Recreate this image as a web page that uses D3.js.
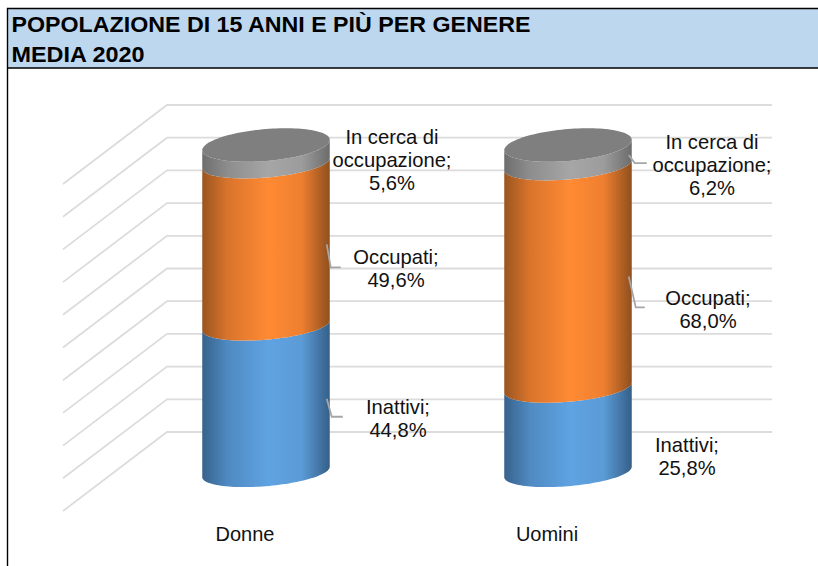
<!DOCTYPE html>
<html><head><meta charset="utf-8">
<script src="https://cdn.jsdelivr.net/npm/d3@7"></script>
<style>html,body{margin:0;padding:0;background:#fff}svg{display:block}text{font-family:"Liberation Sans",Arial,sans-serif}</style>
</head><body><svg id="c" width="818" height="566"></svg>
<script>
const categories = ["Donne", "Uomini"];
const seriesNames = ["Inattivi", "Occupati", "In cerca di occupazione"];
const inattivi = [44.8, 25.8];
const occupati = [49.6, 68.0];
const inCerca = [5.6, 6.2];
const seriesValues = [inattivi, occupati, inCerca];
const gridTicks = d3.range(0, 101, 10);
const titleLines = ["POPOLAZIONE DI 15 ANNI E PIÙ PER GENERE", "MEDIA 2020"];

const W = 818, H = 566;
const svg = d3.select("#c");
const defs = svg.append("defs");

// chart geometry
const y = d3.scaleLinear().domain([0, 100]).range([432, 105]);
const x = d3.scalePoint().domain(categories).range([266, 568]);
const radius = 63.75, tilt = 5.2, depthMid = 40;
const backL = 167, backR = 772, depthX = -104, depthY = 79;

// header and frame
svg.append("rect").attr("x", 7).attr("y", 8).attr("width", W - 7).attr("height", 60).attr("fill", "#BDD7EE");
svg.append("path").attr("d", `M${W},8.5H7.5V${H}M7.5,68H${W}`).attr("fill", "none").attr("stroke", "#000").attr("stroke-width", 1.4);
svg.selectAll(".title").data(titleLines).join("text").attr("class", "title")
  .attr("x", 11.5).attr("y", (d, i) => 32 + i * 30)
  .attr("font-size", 22.6).attr("font-weight", "bold").attr("fill", "#000")
  .attr("textLength", (d, i) => i === 0 ? 519 : 133).attr("lengthAdjust", "spacingAndGlyphs")
  .text(d => d);

// gridlines: back wall + side wall
svg.append("g").selectAll("path").data(gridTicks).join("path")
  .attr("d", t => `M${backL + depthX},${y(t) + depthY}L${backL},${y(t)}H${backR}`)
  .attr("fill", "none").attr("stroke", "#dcdcdc").attr("stroke-width", 1.8);

// gradients
const grads = [
  {id: "g0", stops: ["#37628c", "#4f8ac2", "#5fa3e2", "#5b9bd6", "#355f88"]},
  {id: "g1", stops: ["#9a5520", "#d9742c", "#ff8a33", "#ee7f30", "#8f4f1e"]},
  {id: "g2", stops: ["#6e6e6e", "#8d8d8d", "#a6a6a6", "#9c9c9c", "#6c6c6c"]}
];
grads.forEach(g => {
  const lg = defs.append("linearGradient").attr("id", g.id).attr("x1", 0).attr("x2", 1).attr("y1", 0).attr("y2", 0);
  [0, 0.2, 0.52, 0.78, 1].forEach((o, i) => lg.append("stop").attr("offset", o).attr("stop-color", g.stops[i]));
});

const line = d3.line().curve(d3.curveLinear);
const rim = (cat, value, b, t) => [
  x(cat) + radius * Math.cos(t),
  y(value) + depthMid + b * Math.sin(t) - tilt * Math.cos(t)
];
const ts = d3.range(0, 61).map(i => i / 60 * Math.PI);
const bBody = 14.2, bTop = 16;

categories.forEach((cat, ci) => {
  let acc = 0;
  seriesValues.forEach((vals, si) => {
    const v0 = acc, v1 = acc + vals[ci];
    acc = v1;
    const lower = ts.map(t => rim(cat, v0, bBody, t));
    const upper = ts.map(t => rim(cat, v1, si === 2 ? bTop : bBody, t)).reverse();
    svg.append("path").attr("d", line(lower.concat(upper)) + "Z").attr("fill", `url(#g${si})`);
  });
  const all = d3.range(0, 121).map(i => rim(cat, acc, bTop, i / 120 * 2 * Math.PI));
  svg.append("path").attr("d", line(all) + "Z").attr("fill", "#7f7f7f");
});

// data labels (placement of each label relative to its cylinder's centre)
const labelLayout = [
  [{dx: 132, y: 407, lead: [5, 18, 11], leadOn: true}, {dx: 130, y: 257, lead: [4, 23, 10], leadOn: true}, {dx: 126, y: 137, leadOn: false}],
  [{dx: 119, y: 445, leadOn: false}, {dx: 140, y: 298, lead: [7, 31, 9], leadOn: true}, {dx: 144, y: 142, lead: [6, 8, 12], leadOn: true}]
];
const lineH = 23;
categories.forEach((cat, ci) => {
  let acc = 0;
  seriesValues.forEach((vals, si) => {
    const v = vals[ci], mid = acc + v / 2;
    acc += v;
    const L = labelLayout[ci][si];
    const pct = d3.format(".1f")(v).replace(".", ",") + "%";
    const words = si === 2 ? ["In cerca di", "occupazione;", pct] : [seriesNames[si] + ";", pct];
    const t = svg.append("text").attr("text-anchor", "middle").attr("font-size", 20.2).attr("fill", "#111");
    words.forEach((w, i) => t.append("tspan").attr("x", x(cat) + L.dx).attr("y", L.y + 7 + i * lineH).text(w));
    if (L.leadOn) {
      const sx = x(cat) + radius - 3, sy = y(mid) + depthMid;
      const [a, b, c] = L.lead;
      svg.append("path").attr("d", `M${sx},${sy}L${sx + a},${sy + b}h${c}`)
        .attr("fill", "none").attr("stroke", "#a6a6a6").attr("stroke-width", 1.8);
    }
  });
});

// category axis
svg.selectAll(".cat").data(categories).join("text").attr("class", "cat")
  .attr("x", d => x(d) - 21).attr("y", 541).attr("text-anchor", "middle")
  .attr("font-size", 20).attr("fill", "#111").text(d => d);
</script></body></html>
